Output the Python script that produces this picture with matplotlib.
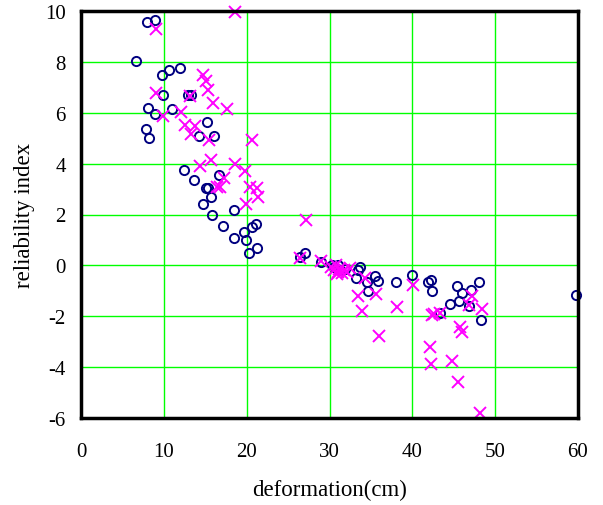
import matplotlib
matplotlib.use("Agg")
import matplotlib.pyplot as plt

# circles (series 1)
circ_x = [6.7, 8.0, 8.9, 9.8, 10.6, 11.9, 9.85, 12.9, 13.3, 8.1, 8.9, 11.0, 7.9, 8.2,
          15.2, 14.3, 16.0, 12.4, 13.7, 15.1, 15.3, 16.6, 15.7, 14.7, 18.5, 15.8, 17.2,
          19.7, 20.6, 21.1, 18.5, 19.9, 20.3, 21.3,
          26.4, 27.0, 29.0,
          30.3, 30.6, 31.0, 31.3, 31.9, 33.7, 33.4, 33.2, 35.5, 35.9, 34.5, 34.6, 38.0,
          40.0, 41.9, 42.2, 42.4,
          43.3, 44.6, 45.4, 46.0, 45.6, 46.8, 47.1, 48.1, 48.3, 59.8]
circ_y = [8.02, 9.58, 9.64, 7.5, 7.7, 7.76, 6.69, 6.69, 6.69, 6.2, 5.95, 6.14, 5.38, 5.01,
          5.64, 5.08, 5.08, 3.74, 3.36, 3.05, 3.05, 3.57, 2.68, 2.43, 2.19, 2.0, 1.55,
          1.3, 1.49, 1.62, 1.07, 1.0, 0.48, 0.69,
          0.33, 0.49, 0.13,
          0.02, -0.08, 0.0, -0.2, -0.15, -0.07, -0.2, -0.5, -0.42, -0.6, -0.64, -0.99, -0.64,
          -0.37, -0.64, -0.56, -1.01,
          -1.89, -1.51, -0.83, -1.08, -1.4, -1.58, -0.96, -0.64, -2.14, -1.15]

# crosses (series 2)
cross_x = [18.6, 9.0, 14.75, 15.15, 15.3, 9.0, 13.1, 15.9, 17.6, 12.1, 9.9,
           12.5, 13.8, 13.3, 15.4, 20.7, 14.4, 15.7, 18.6, 19.8, 17.3, 16.4, 16.8,
           20.4, 21.2, 21.4, 19.9,
           27.2, 26.4, 29.0,
           30.2, 30.6, 30.9, 31.2, 31.5, 31.8, 32.1, 32.5, 30.8, 31.0,
           34.3, 33.5, 35.6, 33.9, 38.1, 36.0, 40.1, 42.6, 42.4, 43.4,
           42.1, 42.3, 44.8, 45.7, 46.0, 45.5, 47.2, 46.8, 48.4, 48.2]
cross_y = [9.98, 9.3, 7.48, 7.24, 6.89, 6.79, 6.66, 6.37, 6.16, 6.03, 5.88,
           5.53, 5.48, 5.17, 4.92, 4.94, 3.92, 4.15, 3.99, 3.7, 3.45, 3.1, 3.1,
           3.1, 3.06, 2.67, 2.4,
           1.79, 0.28, 0.18,
           -0.05, -0.2, -0.35, -0.15, -0.3, -0.2, -0.25, -0.1, 0.0, -0.28,
           -0.5, -1.19, -1.12, -1.78, -1.62, -2.76, -0.79, -1.91, -1.95, -1.87,
           -3.22, -3.88, -3.75, -2.44, -2.63, -4.57, -1.21, -1.55, -1.71, -5.81]

x_ticks = [0, 10, 20, 30, 40, 50, 60]
y_ticks = [-6, -4, -2, 0, 2, 4, 6, 8, 10]

plt.rcParams['font.family'] = ['Liberation Serif', 'DejaVu Serif']
plt.rcParams['axes.unicode_minus'] = False

fig = plt.figure(figsize=(6.03, 5.06), dpi=100)
ax = fig.add_axes([81/603, 87/506, 497/603, 407/506])

ax.plot(circ_x, circ_y, linestyle='none', marker='o', markersize=6.6,
        markerfacecolor='none', markeredgecolor='#000080', markeredgewidth=1.4,
        zorder=3, clip_on=False)
ax.plot(cross_x, cross_y, linestyle='none', marker='x', markersize=8,
        markeredgecolor='#FF00FF', markeredgewidth=1.4, zorder=3, clip_on=False)

ax.set_xlim(0, 60)
ax.set_ylim(-6, 10)
ax.set_xticks(x_ticks)
ax.set_yticks(y_ticks)
ax.grid(True, color='#00FF00', linewidth=1.0)
ax.set_axisbelow(True)
ax.tick_params(length=0, labelsize=15)
ax.tick_params(axis='x', pad=17)
ax.tick_params(axis='y', pad=11)
for s in ax.spines.values():
    s.set_linewidth(2.5)
    s.set_color('black')
    s.set_zorder(4)
ax.set_xlabel('deformation(cm)', fontsize=16.5, labelpad=13)
ax.set_ylabel('reliability index', fontsize=16.5, labelpad=7)

fig.savefig('out.png', dpi=100)
